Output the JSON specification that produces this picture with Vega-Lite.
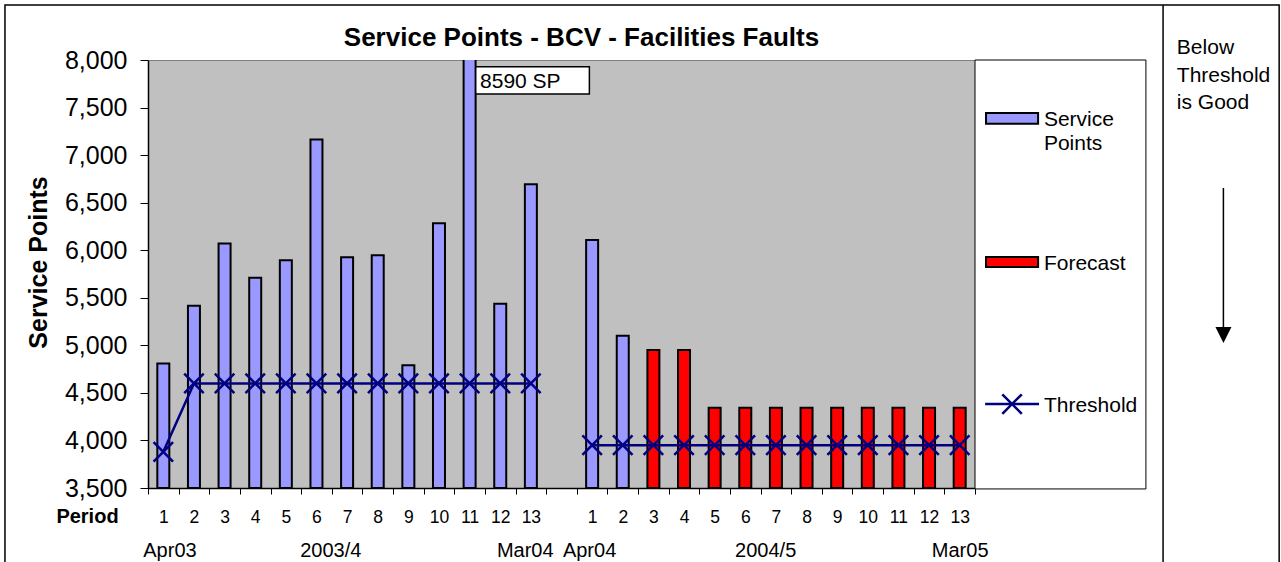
{
  "$schema": "https://vega.github.io/schema/vega-lite/v6.json",
  "width": 827,
  "height": 428,
  "autosize": {"type": "none"},
  "padding": {"left": 148, "top": 60, "right": 306, "bottom": 74},
  "background": "white",
  "config": {
    "font": "Liberation Sans",
    "view": {"fill": "#C0C0C0", "stroke": "#808080", "strokeWidth": 1},
    "axis": {"grid": false, "domainColor": "black", "tickColor": "black", "labelColor": "black", "titleColor": "black", "labelFont": "Liberation Sans", "titleFont": "Liberation Sans"}
  },
  "title": {"text": "Service Points - BCV - Facilities Faults", "fontSize": 26, "fontWeight": "bold", "font": "Liberation Sans", "color": "black", "anchor": "middle", "frame": "group", "dx": 20, "offset": -68, "baseline": "alphabetic"},
  "data": {"values": [
    {"slot": 1, "period": 1, "year": "2003/4", "series": "Service Points", "value": 4810, "threshold": 3880},
    {"slot": 2, "period": 2, "year": "2003/4", "series": "Service Points", "value": 5415, "threshold": 4600},
    {"slot": 3, "period": 3, "year": "2003/4", "series": "Service Points", "value": 6070, "threshold": 4600},
    {"slot": 4, "period": 4, "year": "2003/4", "series": "Service Points", "value": 5710, "threshold": 4600},
    {"slot": 5, "period": 5, "year": "2003/4", "series": "Service Points", "value": 5895, "threshold": 4600},
    {"slot": 6, "period": 6, "year": "2003/4", "series": "Service Points", "value": 7165, "threshold": 4600},
    {"slot": 7, "period": 7, "year": "2003/4", "series": "Service Points", "value": 5926, "threshold": 4600},
    {"slot": 8, "period": 8, "year": "2003/4", "series": "Service Points", "value": 5947, "threshold": 4600},
    {"slot": 9, "period": 9, "year": "2003/4", "series": "Service Points", "value": 4790, "threshold": 4600},
    {"slot": 10, "period": 10, "year": "2003/4", "series": "Service Points", "value": 6283, "threshold": 4600},
    {"slot": 11, "period": 11, "year": "2003/4", "series": "Service Points", "value": 8590, "threshold": 4600},
    {"slot": 12, "period": 12, "year": "2003/4", "series": "Service Points", "value": 5438, "threshold": 4600},
    {"slot": 13, "period": 13, "year": "2003/4", "series": "Service Points", "value": 6693, "threshold": 4600},
    {"slot": 15, "period": 1, "year": "2004/5", "series": "Service Points", "value": 6107, "threshold": 3950},
    {"slot": 16, "period": 2, "year": "2004/5", "series": "Service Points", "value": 5101, "threshold": 3950},
    {"slot": 17, "period": 3, "year": "2004/5", "series": "Forecast", "value": 4950, "threshold": 3950},
    {"slot": 18, "period": 4, "year": "2004/5", "series": "Forecast", "value": 4950, "threshold": 3950},
    {"slot": 19, "period": 5, "year": "2004/5", "series": "Forecast", "value": 4345, "threshold": 3950},
    {"slot": 20, "period": 6, "year": "2004/5", "series": "Forecast", "value": 4345, "threshold": 3950},
    {"slot": 21, "period": 7, "year": "2004/5", "series": "Forecast", "value": 4345, "threshold": 3950},
    {"slot": 22, "period": 8, "year": "2004/5", "series": "Forecast", "value": 4345, "threshold": 3950},
    {"slot": 23, "period": 9, "year": "2004/5", "series": "Forecast", "value": 4345, "threshold": 3950},
    {"slot": 24, "period": 10, "year": "2004/5", "series": "Forecast", "value": 4345, "threshold": 3950},
    {"slot": 25, "period": 11, "year": "2004/5", "series": "Forecast", "value": 4345, "threshold": 3950},
    {"slot": 26, "period": 12, "year": "2004/5", "series": "Forecast", "value": 4345, "threshold": 3950},
    {"slot": 27, "period": 13, "year": "2004/5", "series": "Forecast", "value": 4345, "threshold": 3950}
  ]},
  "resolve": {"axis": {"x": "independent", "y": "independent"}},
  "layer": [
    {
      "mark": {"type": "bar", "width": 12, "stroke": "#000000", "strokeWidth": 2, "strokeOpacity": 1, "clip": true, "opacity": 1},
      "encoding": {
        "x": {"field": "slot", "type": "quantitative",
              "scale": {"domain": [0.5, 27.5], "nice": false, "zero": false, "padding": 0},
              "axis": {"orient": "bottom", "values": [0.5,1.5,2.5,3.5,4.5,5.5,6.5,7.5,8.5,9.5,10.5,11.5,12.5,13.5,14.5,15.5,16.5,17.5,18.5,19.5,20.5,21.5,22.5,23.5,24.5,25.5,26.5,27.5],
                       "labels": false, "ticks": true, "tickSize": 6, "domain": true, "domainColor": "black", "domainWidth": 1.5, "title": null}},
        "y": {"field": "value", "type": "quantitative",
              "scale": {"domain": [3500, 8000], "nice": false, "zero": false, "padding": 0},
              "axis": {"orient": "left", "values": [3500,4000,4500,5000,5500,6000,6500,7000,7500,8000], "format": ",d",
                       "labelFontSize": 25, "tickSize": 8, "labelPadding": 13, "domainColor": "black", "domainWidth": 1.5,
                       "title": "Service Points", "titleFontSize": 25, "titleFontWeight": "bold",
                       "titleX": -110, "titleY": 202, "titleAngle": 270, "titleAlign": "center", "titleBaseline": "middle"}},
        "y2": {"datum": 3500},
        "color": {"field": "series", "type": "nominal",
                  "scale": {"domain": ["Service Points", "Forecast", "Threshold"], "range": ["#9999FF", "#FF0000", "#000080"]},
                  "legend": null}
      }
    },
    {
      "mark": {"type": "line", "strokeWidth": 2.5},
      "encoding": {
        "x": {"field": "slot", "type": "quantitative",
              "axis": {"orient": "bottom", "values": [1,2,3,4,5,6,7,8,9,10,11,12,13,15,16,17,18,19,20,21,22,23,24,25,26,27],
                       "labelExpr": "'' + (datum.value > 14 ? datum.value - 14 : datum.value)",
                       "ticks": false, "tickSize": 0, "domain": false, "labelFontSize": 17.5, "labelPadding": 34,
                       "labelBaseline": "alphabetic", "labelFlush": false, "labelOverlap": false,
                       "title": "Period", "titleFontSize": 20, "titleFontWeight": "bold",
                       "titleX": -61, "titleY": 34, "titleBaseline": "alphabetic", "titleAlign": "center"}},
        "y": {"field": "threshold", "type": "quantitative", "axis": null},
        "detail": {"field": "year", "type": "nominal"},
        "color": {"datum": "Threshold", "legend": null}
      }
    },
    {
      "mark": {"type": "point", "shape": "M-1,-1L1,1M-1,1L1,-1", "size": 380, "filled": false, "strokeWidth": 2.5, "opacity": 1},
      "encoding": {
        "x": {"field": "slot", "type": "quantitative",
              "axis": {"orient": "bottom", "values": [1.2, 6.45, 12.8, 14.9, 20.65, 27],
                       "labelExpr": "datum.value < 2 ? 'Apr03' : datum.value < 7 ? '2003/4' : datum.value < 13 ? 'Mar04' : datum.value < 15 ? 'Apr04' : datum.value < 21 ? '2004/5' : 'Mar05'",
                       "ticks": false, "tickSize": 0, "domain": false, "labelFontSize": 20, "labelPadding": 68,
                       "labelBaseline": "alphabetic", "labelFlush": false, "labelOverlap": false, "title": null}},
        "y": {"field": "threshold", "type": "quantitative", "axis": null},
        "color": {"datum": "Threshold", "legend": null}
      }
    },
    {
      "data": {"values": [{}]},
      "mark": {"type": "rect", "fill": "white", "stroke": "black", "strokeWidth": 1.5, "clip": false},
      "encoding": {
        "x": {"datum": 11.2, "type": "quantitative", "axis": null},
        "x2": {"datum": 14.91},
        "y": {"datum": 7930, "type": "quantitative", "axis": null},
        "y2": {"datum": 7642}
      }
    },
    {
      "data": {"values": [{}]},
      "mark": {"type": "text", "text": "8590 SP", "fontSize": 21, "align": "left", "baseline": "alphabetic", "color": "black", "clip": false},
      "encoding": {
        "x": {"datum": 11.34, "type": "quantitative", "axis": null},
        "y": {"datum": 7709, "type": "quantitative", "axis": null}
      }
    },
    {
      "data": {"values": [{}]},
      "mark": {"type": "rect", "fill": "white", "stroke": "black", "strokeWidth": 1, "clip": false},
      "encoding": {
        "x": {"datum": 27.5, "type": "quantitative", "axis": null},
        "x2": {"datum": 33.08},
        "y": {"datum": 8000, "type": "quantitative", "axis": null},
        "y2": {"datum": 3490}
      }
    },
    {
      "data": {"values": [{}]},
      "mark": {"type": "rect", "fill": "#9999FF", "stroke": "black", "strokeWidth": 2, "clip": false},
      "encoding": {
        "x": {"datum": 27.86, "type": "quantitative", "axis": null},
        "x2": {"datum": 29.56},
        "y": {"datum": 7443, "type": "quantitative", "axis": null},
        "y2": {"datum": 7330}
      }
    },
    {
      "data": {"values": [{}]},
      "mark": {"type": "rect", "fill": "#FF0000", "stroke": "black", "strokeWidth": 2, "clip": false},
      "encoding": {
        "x": {"datum": 27.86, "type": "quantitative", "axis": null},
        "x2": {"datum": 29.56},
        "y": {"datum": 5929, "type": "quantitative", "axis": null},
        "y2": {"datum": 5824}
      }
    },
    {
      "data": {"values": [{}]},
      "mark": {"type": "rule", "stroke": "#000080", "strokeWidth": 2.5, "clip": false},
      "encoding": {
        "x": {"datum": 27.83, "type": "quantitative", "axis": null},
        "x2": {"datum": 29.59},
        "y": {"datum": 4383, "type": "quantitative", "axis": null}
      }
    },
    {
      "data": {"values": [{}]},
      "mark": {"type": "point", "shape": "M-1,-1L1,1M-1,1L1,-1", "size": 380, "filled": false, "stroke": "#000080", "strokeWidth": 2.5, "opacity": 1, "clip": false},
      "encoding": {
        "x": {"datum": 28.71, "type": "quantitative", "axis": null},
        "y": {"datum": 4383, "type": "quantitative", "axis": null}
      }
    },
    {
      "data": {"values": [{}]},
      "mark": {"type": "text", "text": ["Service", "Points"], "lineHeight": 24, "fontSize": 21, "align": "left", "baseline": "alphabetic", "color": "black", "clip": false},
      "encoding": {
        "x": {"datum": 29.75, "type": "quantitative", "axis": null},
        "y": {"datum": 7306, "type": "quantitative", "axis": null}
      }
    },
    {
      "data": {"values": [{}]},
      "mark": {"type": "text", "text": "Forecast", "fontSize": 21, "align": "left", "baseline": "alphabetic", "color": "black", "clip": false},
      "encoding": {
        "x": {"datum": 29.75, "type": "quantitative", "axis": null},
        "y": {"datum": 5796, "type": "quantitative", "axis": null}
      }
    },
    {
      "data": {"values": [{}]},
      "mark": {"type": "text", "text": "Threshold", "fontSize": 21, "align": "left", "baseline": "alphabetic", "color": "black", "clip": false},
      "encoding": {
        "x": {"datum": 29.75, "type": "quantitative", "axis": null},
        "y": {"datum": 4299, "type": "quantitative", "axis": null}
      }
    },
    {
      "data": {"values": [{}]},
      "mark": {"type": "rect", "fill": "transparent", "stroke": "black", "strokeWidth": 1.5, "clip": false},
      "encoding": {
        "x": {"datum": -4.17, "type": "quantitative", "axis": null},
        "x2": {"datum": 37.43},
        "y": {"datum": 8578, "type": "quantitative", "axis": null},
        "y2": {"datum": 2322}
      }
    },
    {
      "data": {"values": [{}]},
      "mark": {"type": "rule", "stroke": "black", "strokeWidth": 1.5, "clip": false},
      "encoding": {
        "x": {"datum": 33.64, "type": "quantitative", "axis": null},
        "y": {"datum": 8578, "type": "quantitative", "axis": null},
        "y2": {"datum": 2322}
      }
    },
    {
      "data": {"values": [{}]},
      "mark": {"type": "text", "text": ["Below", "Threshold", "is Good"], "lineHeight": 27.5, "fontSize": 21, "align": "left", "baseline": "alphabetic", "color": "black", "clip": false},
      "encoding": {
        "x": {"datum": 34.09, "type": "quantitative", "axis": null},
        "y": {"datum": 8063, "type": "quantitative", "axis": null}
      }
    },
    {
      "data": {"values": [{}]},
      "mark": {"type": "rule", "stroke": "black", "strokeWidth": 1.5, "clip": false},
      "encoding": {
        "x": {"datum": 35.61, "type": "quantitative", "axis": null},
        "y": {"datum": 6654, "type": "quantitative", "axis": null},
        "y2": {"datum": 5161}
      }
    },
    {
      "data": {"values": [{}]},
      "mark": {"type": "point", "shape": "M-1,-1L1,-1L0,1Z", "size": 256, "filled": true, "color": "black", "opacity": 1, "clip": false},
      "encoding": {
        "x": {"datum": 35.61, "type": "quantitative", "axis": null},
        "y": {"datum": 5109, "type": "quantitative", "axis": null}
      }
    }
  ]
}
